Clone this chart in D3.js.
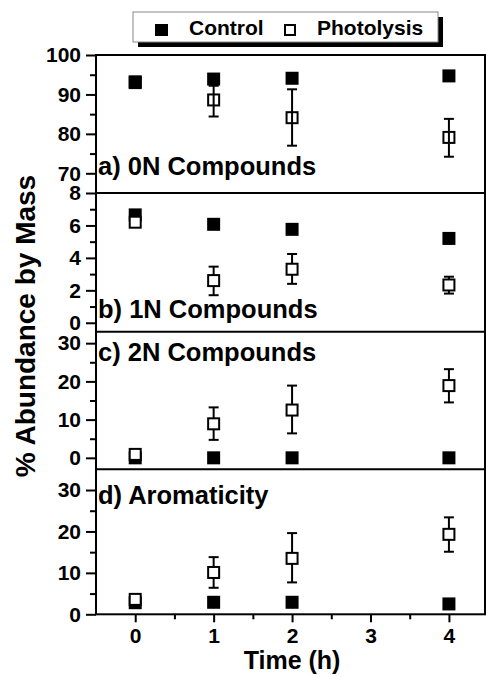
<!DOCTYPE html>
<html><head><meta charset="utf-8">
<script src="https://cdn.jsdelivr.net/npm/d3@7"></script>
<style>body{margin:0;background:#fff}svg{display:block}text{font-family:Arial,"Liberation Sans",sans-serif;font-weight:bold;fill:#000}</style>
</head><body><div id="chart"></div>
<script>
const times = [0, 1, 2, 4];
const xTicks = [0, 1, 2, 3, 4];
const panelLabels = ["a) 0N Compounds", "b) 1N Compounds", "c) 2N Compounds", "d) Aromaticity"];
const yDomains = [[65, 100], [-0.55, 8], [-3, 33], [0, 35]];
const yMajorTicks = [[70, 80, 90, 100], [0, 2, 4, 6, 8], [0, 10, 20, 30], [0, 10, 20, 30]];
const yMinorTicks = [[75, 85, 95], [1, 3, 5, 7], [5, 15, 25], [5, 15, 25]];
const controlA = [93.0, 93.9, 94.1, 94.7];
const controlB = [6.65, 6.07, 5.76, 5.2];
const controlC = [0.0, 0.0, 0.0, 0.0];
const controlD = [2.8, 2.9, 2.9, 2.5];
const photoA = [93.2, 88.6, 84.1, 79.1];
const photoAErr = [[92.6, 93.8], [84.4, 92.2], [77.0, 91.3], [74.2, 83.8]];
const photoB = [6.2, 2.6, 3.3, 2.33];
const photoBErr = [[6.2, 6.2], [1.7, 3.46], [2.4, 4.24], [1.8, 2.84]];
const photoC = [0.9, 8.9, 12.5, 18.9];
const photoCErr = [[0.9, 0.9], [4.7, 13.2], [6.4, 18.9], [14.5, 23.2]];
const photoD = [3.6, 10.1, 13.5, 19.3];
const photoDErr = [[3.6, 3.6], [6.4, 13.8], [7.7, 19.6], [15.1, 23.4]];

const controls = [controlA, controlB, controlC, controlD];
const photos = [photoA, photoB, photoC, photoD];
const photoErrs = [photoAErr, photoBErr, photoCErr, photoDErr];

const W = 486, H = 678;
const FONT = "Arial, 'Liberation Sans', sans-serif";
const svg = d3.select("#chart").append("svg").attr("width", W).attr("height", H);
const left = 96, right = 485;
const bounds = [[55, 193], [193, 331.7], [331.7, 469.3], [469.3, 614.3]];
const x = d3.scaleLinear().domain([-0.5, 4.5]).range([left, left + (right - left) * 5 / 4.96]);

bounds.forEach((b, i) => {
  const y = d3.scaleLinear().domain(yDomains[i]).range([b[1], b[0]]);
  const g = svg.append("g");
  const ax = d3.axisLeft(y).tickValues(yMajorTicks[i]).tickSize(10).tickPadding(5).tickFormat(d3.format("d"));
  const ag = g.append("g").attr("transform", `translate(${left},0)`).call(ax);
  ag.select(".domain").remove();
  ag.selectAll("line").attr("stroke", "#000").attr("stroke-width", 2);
  ag.selectAll("text").style("font-size", "21px").style("font-weight", "bold").attr("font-family", FONT);
  const mx = d3.axisLeft(y).tickValues(yMinorTicks[i]).tickSize(6).tickFormat("");
  const mg = g.append("g").attr("transform", `translate(${left},0)`).call(mx);
  mg.select(".domain").remove();
  mg.selectAll("line").attr("stroke", "#000").attr("stroke-width", 2);

  g.append("text").attr("x", left + 2).attr("y", [175, 318, 361, 504][i])
    .style("font-size", "25.5px").text(panelLabels[i]);

  const err = photoErrs[i];
  times.forEach((t, j) => {
    const lo = err[j][0], hi = err[j][1];
    if (hi - lo < 0.01) return;
    const cx = x(t);
    g.append("line").attr("x1", cx).attr("x2", cx).attr("y1", y(lo)).attr("y2", y(hi)).attr("stroke", "#000").attr("stroke-width", 2);
    [lo, hi].forEach(v => g.append("line").attr("x1", cx - 5).attr("x2", cx + 5).attr("y1", y(v)).attr("y2", y(v)).attr("stroke", "#000").attr("stroke-width", 2));
  });
  g.selectAll(".ctl").data(controls[i]).join("rect")
    .attr("x", (d, j) => x(times[j]) - 6.5).attr("y", d => y(d) - 6.5)
    .attr("width", 13).attr("height", 13).attr("fill", "#000");
  g.selectAll(".pho").data(photos[i]).join("rect")
    .attr("x", (d, j) => x(times[j]) - 5.5).attr("y", d => y(d) - 5.5)
    .attr("width", 11).attr("height", 11).attr("fill", i === 0 ? "none" : "#fff").attr("stroke", i === 0 && false ? "#fff" : "#000").attr("stroke-width", 2);
});

svg.append("rect").attr("x", left).attr("y", 55).attr("width", right - left).attr("height", 614.3 - 55)
  .attr("fill", "none").attr("stroke", "#000").attr("stroke-width", 2);
bounds.slice(1).forEach(b => svg.append("line").attr("x1", left).attr("x2", right).attr("y1", b[0]).attr("y2", b[0]).attr("stroke", "#000").attr("stroke-width", 2));

const xa = d3.axisBottom(x).tickValues(xTicks).tickSize(8).tickPadding(6).tickFormat(d3.format("d"));
const xg = svg.append("g").attr("transform", "translate(0,614.3)").call(xa);
xg.select(".domain").remove();
xg.selectAll("line").attr("stroke", "#000").attr("stroke-width", 2);
xg.selectAll("text").style("font-size", "21px").style("font-weight", "bold").attr("font-family", FONT);
const xm = d3.axisBottom(x).tickValues([0.5, 1.5, 2.5, 3.5]).tickSize(5).tickFormat("");
const xmg = svg.append("g").attr("transform", "translate(0,614.3)").call(xm);
xmg.select(".domain").remove();
xmg.selectAll("line").attr("stroke", "#000").attr("stroke-width", 2);

svg.append("text").attr("x", x(2)).attr("y", 669).attr("text-anchor", "middle").style("font-size", "25px").text("Time (h)");
svg.append("text").attr("transform", "translate(35,326) rotate(-90)").attr("text-anchor", "middle").style("font-size", "28px").text("% Abundance by Mass");

const lg = svg.append("g");
lg.append("rect").attr("x", 138).attr("y", 17).attr("width", 305).attr("height", 30).attr("fill", "#000");
lg.append("rect").attr("x", 133).attr("y", 12).attr("width", 305).attr("height", 30).attr("fill", "#fff").attr("stroke", "#888").attr("stroke-width", 1);
lg.append("rect").attr("x", 155).attr("y", 24).attr("width", 13).attr("height", 12).attr("fill", "#000");
lg.append("text").attr("x", 189).attr("y", 34.5).style("font-size", "21px").text("Control");
lg.append("rect").attr("x", 285).attr("y", 25).attr("width", 10).attr("height", 10).attr("fill", "#fff").attr("stroke", "#000").attr("stroke-width", 2);
lg.append("text").attr("x", 317).attr("y", 34.5).style("font-size", "21px").text("Photolysis");
</script></body></html>
